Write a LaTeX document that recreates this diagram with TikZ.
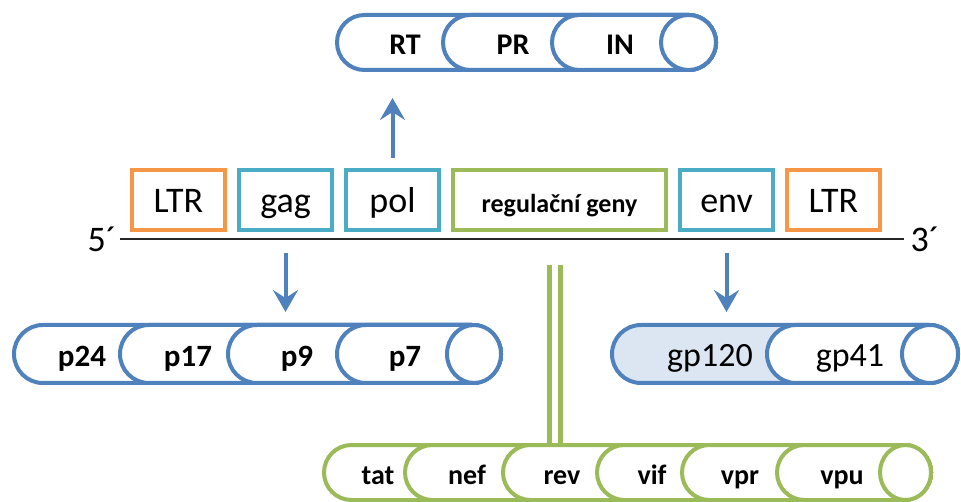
\documentclass[tikz,border=0pt]{standalone}
\usepackage{fontspec}
\setmainfont{Carlito}
\usetikzlibrary{arrows.meta, positioning}
\definecolor{ltrorange}{HTML}{F79646}
\definecolor{genteal}{HTML}{4BACC6}
\definecolor{reggreen}{HTML}{9BBB59}
\definecolor{cylblue}{HTML}{4F81BD}
\definecolor{gpfill}{HTML}{DCE6F2}

\begin{document}
\begin{tikzpicture}[x=1pt, y=-1pt, node distance=10pt,
                gene/.style = {
                    rectangle, draw=genteal,
                    line width=4pt, inner sep=0pt,
                    minimum width=93pt, minimum height=60pt,
                    text height=26pt, text depth=0pt,
                    font=\fontsize{36}{40}\selectfont
                },
                ltr/.style = {gene, draw=ltrorange},
                regbox/.style = {
                    gene, draw=reggreen, minimum width=213pt,
                    font=\bfseries\fontsize{26}{30}\selectfont
                },
                seg/.style = {
                    draw=cylblue, line width=4pt,
                    fill=white, rounded corners=#1
                },
                lbl/.style = {inner sep=0pt, anchor=base},
                ends/.style = {inner sep=0pt, font=\fontsize{36}{40}\selectfont},
                strand/.style = {
                    draw=black!85, line width=2.5pt,
                    shorten <=3pt, shorten >=6pt
                },
                arrow/.style = {
                    draw=cylblue, line width=4pt,
                    -{Stealth[length=22pt, width=25pt, inset=8pt]}
                },
                dbl/.style = {
                    draw=reggreen, line width=5pt,
                    double=white, double distance=6pt
                }
                ]
                \useasboundingbox (0,0) rectangle (961,502);

                % genome
                \node[ltr, anchor=west] (ltr1) at (130,200) {LTR};
                \node[gene, right=of ltr1] (gag) {gag};
                \node[gene, right=of gag] (pol) {pol};
                \node[regbox, right=of pol] (reg) {regulační geny};
                \node[gene, right=of reg] (env) {env};
                \node[ltr, right=of env] (ltr2) {LTR};

                \node[ends] (five) at (102,239) {5´};
                \node[ends] (three) at (925,239) {3´};
                \path[strand] (five)--(three);

                % pol products
                \foreach \x in {337,443,552}
                    \draw[seg=27.4pt] (\x,15) rectangle (716,70);
                \draw[seg=0pt] (688.5,42.5) ellipse [x radius=27.5pt, y radius=27.5pt];
                \node[lbl, font=\bfseries\fontsize{30}{34}\selectfont] (rt) at (405,55) {RT};
                \node[lbl, font=\bfseries\fontsize{30}{34}\selectfont] (pr) at (513,55) {PR};
                \node[lbl, font=\bfseries\fontsize{30}{34}\selectfont] (in) at (620,55) {IN};
                \coordinate (polprot) at (395,72);

                % gag products
                \foreach \x in {14,120,228,337}
                    \draw[seg=28.9pt] (\x,325) rectangle (501,383);
                \draw[seg=0pt] (474,354) ellipse [x radius=27pt, y radius=29pt];
                \node[lbl, font=\bfseries\fontsize{31}{35}\selectfont] (p24) at (82,367) {p24};
                \node[lbl, font=\bfseries\fontsize{31}{35}\selectfont] (p17) at (188,367) {p17};
                \node[lbl, font=\bfseries\fontsize{31}{35}\selectfont] (p9) at (297,367) {p9};
                \node[lbl, font=\bfseries\fontsize{31}{35}\selectfont] (p7) at (405,367) {p7};
                \coordinate (gagprot) at (287,323);

                % env products
                \draw[seg=28.9pt, fill=gpfill] (612,325) rectangle (958,383);
                \draw[seg=28.9pt] (767,325) rectangle (958,383);
                \draw[seg=0pt] (930,354) ellipse [x radius=28pt, y radius=29pt];
                \node[lbl, font=\fontsize{34}{38}\selectfont] (gp120) at (710,367) {gp120};
                \node[lbl, font=\fontsize{34}{38}\selectfont] (gp41) at (850,367) {gp41};
                \coordinate (envprot) at (730,323);

                % regulatory products
                \foreach \x in {324,405,503,597,682,777}
                    \draw[seg=27.4pt, draw=reggreen] (\x,445) rectangle (931,500);
                \draw[seg=0pt, draw=reggreen] (905.5,472.5) ellipse [x radius=25.5pt, y radius=27.5pt];
                \node[lbl, font=\bfseries\fontsize{28}{32}\selectfont] (tat) at (378,484) {tat};
                \node[lbl, font=\bfseries\fontsize{28}{32}\selectfont] (nef) at (467,484) {nef};
                \node[lbl, font=\bfseries\fontsize{28}{32}\selectfont] (rev) at (562,484) {rev};
                \node[lbl, font=\bfseries\fontsize{28}{32}\selectfont] (vif) at (652,484) {vif};
                \node[lbl, font=\bfseries\fontsize{28}{32}\selectfont] (vpr) at (740,484) {vpr};
                \node[lbl, font=\bfseries\fontsize{28}{32}\selectfont] (vpu) at (842,484) {vpu};
                \coordinate (regprot) at (555,443);

                \path[arrow, shorten <=10pt, shorten >=26pt] (pol)--(pol |- polprot);
                \path[arrow, shorten <=21pt, shorten >=11pt] (gag)--(gag |- gagprot);
                \path[arrow, shorten <=21pt, shorten >=11pt] (env)--(env |- envprot);
                \path[dbl, shorten <=33pt] (reg.south -| regprot)--(regprot);
            \end{tikzpicture}
\end{document}
